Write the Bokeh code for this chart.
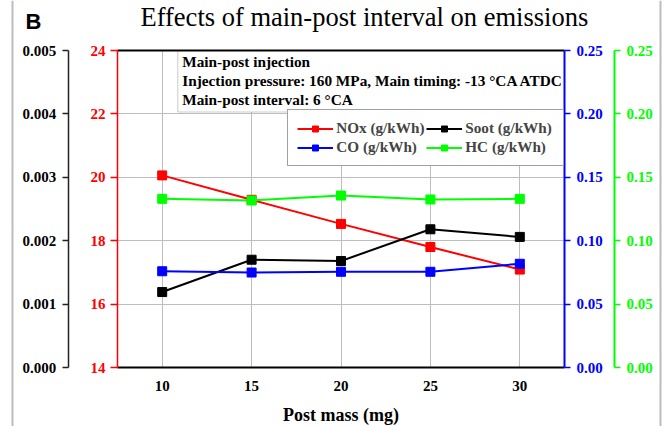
from bokeh.plotting import figure
from bokeh.models import (Range1d, LinearAxis, FixedTicker, PrintfTickFormatter,
                          Legend, LegendItem, Label, BoxAnnotation, Grid)
from bokeh.embed import file_html
from bokeh.resources import INLINE

# ---------------- data ----------------
post_mass = [10, 15, 20, 25, 30]
nox = [20.06, 19.29, 18.53, 17.80, 17.09]          # g/kWh (red, left inner axis)
soot = [0.00119, 0.00170, 0.00168, 0.00218, 0.00206]  # g/kWh (black, left outer axis)
co = [0.0759, 0.0749, 0.0755, 0.0755, 0.0818]      # g/kWh (blue, right inner axis)
hc = [0.1330, 0.1317, 0.1356, 0.1325, 0.1330]      # g/kWh (green, right outer axis)

x_ticks = [10, 15, 20, 25, 30]
nox_ticks = [14, 16, 18, 20, 22, 24]
soot_ticks = [0.000, 0.001, 0.002, 0.003, 0.004, 0.005]
co_ticks = [0.00, 0.05, 0.10, 0.15, 0.20, 0.25]
hc_ticks = [0.00, 0.05, 0.10, 0.15, 0.20, 0.25]

x_lim = (7.5, 32.5)
nox_lim = (14, 24)
soot_lim = (0.0, 0.005)
co_lim = (0.0, 0.25)
hc_lim = (0.0, 0.25)

title_text = "Effects of main-post interval on emissions"
box_lines = ["Main-post injection",
             "Injection pressure: 160 MPa, Main timing: -13 \u00b0CA ATDC",
             "Main-post interval: 6 \u00b0CA"]

# ---------------- geometry (pixels of the plotting area inside the canvas) ----------------
W, H = 667, 426
FL, FR, FT, FB = 117, 564, 50, 367
FONT = "Liberation Serif"
LIME = "#00ff00"
BASE_SHIFT = 0.35  # em; compensates the label baseline placement


def canvas_range(lim, lo_px, hi_px, total, flip=False):
    a, b = lim
    per = (b - a) / (hi_px - lo_px)
    if flip:  # pixel grows downward
        return Range1d(a - (total - hi_px) * per, b + lo_px * per)
    return Range1d(a - lo_px * per, b + (total - hi_px) * per)


def dx(px):
    return x_lim[0] + (px - FL) * (x_lim[1] - x_lim[0]) / (FR - FL)


def dy(py):
    return nox_lim[1] - (py - FT) * (nox_lim[1] - nox_lim[0]) / (FB - FT)


def base(py, size):
    return dy(py - BASE_SHIFT * size)


p = figure(width=W, height=H,
           x_range=canvas_range(x_lim, FL, FR, W),
           y_range=canvas_range(nox_lim, FT, FB, H, flip=True),
           output_backend="svg", toolbar_location=None,
           min_border=0, x_axis_location=None, y_axis_location=None)
p.outline_line_color = None
p.background_fill_color = "white"
p.border_fill_color = "white"
p.xgrid.visible = False
p.ygrid.visible = False
p.extra_y_ranges = {"soot": canvas_range(soot_lim, FT, FB, H, flip=True),
                    "co": canvas_range(co_lim, FT, FB, H, flip=True),
                    "hc": canvas_range(hc_lim, FT, FB, H, flip=True)}

# ---------------- grids (limited to the plotting area) ----------------
has_cross = "cross_bounds" in Grid.properties()
if has_cross:
    gx = Grid(dimension=0, ticker=FixedTicker(ticks=x_ticks), grid_line_color="#bdbdbd",
              grid_line_width=1, bounds=x_lim, cross_bounds=nox_lim)
    gy = Grid(dimension=1, ticker=FixedTicker(ticks=nox_ticks[1:-1]), grid_line_color="#bdbdbd",
              grid_line_width=1, bounds=nox_lim, cross_bounds=x_lim)
    p.add_layout(gx)
    p.add_layout(gy)
else:
    p.segment(x0=x_ticks, y0=[nox_lim[0]] * len(x_ticks), x1=x_ticks, y1=[nox_lim[1]] * len(x_ticks),
              line_color="#bdbdbd", line_width=1, level="underlay")
    p.segment(x0=[x_lim[0]] * 4, y0=nox_ticks[1:-1], x1=[x_lim[1]] * 4, y1=nox_ticks[1:-1],
              line_color="#bdbdbd", line_width=1, level="underlay")

# ---------------- info box (under the guides so the top frame line stays on top) ----------------
p.add_layout(BoxAnnotation(left=dx(177.3), right=x_lim[1], top=nox_lim[1], bottom=dy(111.5),
                           fill_color="white", fill_alpha=1, level="underlay",
                           line_color="#555555", line_width=1))


def style_axis(ax, color, tick_out, standoff):
    ax.axis_line_color = color
    ax.axis_line_width = 1.5
    ax.major_tick_line_color = color
    ax.major_tick_line_width = 1.5
    ax.major_tick_out = tick_out
    ax.major_tick_in = 0
    ax.minor_tick_out = 0
    ax.minor_tick_in = 0
    ax.major_label_text_color = color
    ax.major_label_text_font = FONT
    ax.major_label_text_font_style = "bold"
    ax.major_label_text_font_size = "15px"
    ax.major_label_standoff = standoff


# ---------------- series ----------------
MS = 9
l1 = p.line(post_mass, nox, line_color="red", line_width=2)
s1 = p.scatter(post_mass, nox, marker="square", size=MS, fill_color="red", line_color="red")
l2 = p.line(post_mass, soot, line_color="black", line_width=2, y_range_name="soot")
s2 = p.scatter(post_mass, soot, marker="square", size=MS, fill_color="black", line_color="black",
               y_range_name="soot")
l3 = p.line(post_mass, co, line_color="blue", line_width=2, y_range_name="co")
s3 = p.scatter(post_mass, co, marker="square", size=MS, fill_color="blue", line_color="blue",
               y_range_name="co")
l4 = p.line(post_mass, hc, line_color=LIME, line_width=2, y_range_name="hc")
s4 = p.scatter(post_mass, hc, marker="square", size=MS, fill_color=LIME, line_color=LIME,
               y_range_name="hc")

# ---------------- info text ----------------
BOX_FS = 15.3
for txt, bl in zip(box_lines, [66.5, 85.5, 104.5]):
    p.add_layout(Label(x=dx(181.7), y=base(bl, BOX_FS), text=txt, text_font=FONT,
                       text_font_style="bold", text_font_size=f"{BOX_FS}px",
                       text_color="black", text_baseline="alphabetic"))

# ---------------- axes (pinned at the plotting-area edges) ----------------
red = LinearAxis(ticker=FixedTicker(ticks=nox_ticks), fixed_location=x_lim[0], bounds=nox_lim)
style_axis(red, "red", 7, 5)
p.add_layout(red, "left")

blk = LinearAxis(y_range_name="soot", ticker=FixedTicker(ticks=soot_ticks),
                 formatter=PrintfTickFormatter(format="%.3f"),
                 fixed_location=dx(67.7), bounds=soot_lim)
style_axis(blk, "#222222", 6, 6)
blk.major_label_text_color = "black"
p.add_layout(blk, "left")

blu = LinearAxis(y_range_name="co", ticker=FixedTicker(ticks=co_ticks),
                 formatter=PrintfTickFormatter(format="%.2f"),
                 fixed_location=x_lim[1], bounds=co_lim)
style_axis(blu, "blue", 6, 6)
blu.axis_line_width = 2
p.add_layout(blu, "right")

grn = LinearAxis(y_range_name="hc", ticker=FixedTicker(ticks=hc_ticks),
                 formatter=PrintfTickFormatter(format="%.2f"),
                 fixed_location=dx(614), bounds=hc_lim)
style_axis(grn, LIME, 6, 6)
grn.axis_line_width = 2
p.add_layout(grn, "right")

xa = LinearAxis(ticker=FixedTicker(ticks=x_ticks), fixed_location=nox_lim[0], bounds=x_lim)
xa.axis_line_color = "black"
xa.axis_line_width = 2
xa.major_tick_out = 0
xa.major_tick_in = 0
xa.minor_tick_out = 0
xa.minor_tick_in = 0
xa.major_label_text_color = "black"
xa.major_label_text_font = FONT
xa.major_label_text_font_style = "bold"
xa.major_label_text_font_size = "15px"
xa.major_label_standoff = 13
xa.axis_label = "Post mass (mg)"
xa.axis_label_text_color = "black"
xa.axis_label_text_font = FONT
xa.axis_label_text_font_style = "bold"
xa.axis_label_text_font_size = "18px"
xa.axis_label_standoff = 11
p.add_layout(xa, "below")

top = LinearAxis(ticker=FixedTicker(ticks=[]), fixed_location=nox_lim[1], bounds=x_lim)
top.axis_line_color = "black"
top.axis_line_width = 2
top.major_tick_out = 0
top.major_tick_in = 0
top.minor_tick_out = 0
top.minor_tick_in = 0
top.major_label_text_font_size = "0px"
p.add_layout(top, "above")

# ---------------- legend ----------------
legend = Legend(items=[LegendItem(label="NOx (g/kWh)", renderers=[l1, s1]),
                       LegendItem(label="CO (g/kWh)", renderers=[l3, s3]),
                       LegendItem(label="Soot (g/kWh)", renderers=[l2, s2]),
                       LegendItem(label="HC (g/kWh)", renderers=[l4, s4])],
                location=(287.3, H - 166), nrows=2)
legend.border_line_color = "#444444"
legend.border_line_width = 1
legend.background_fill_color = "white"
legend.background_fill_alpha = 1
legend.label_text_font = FONT
legend.label_text_font_style = "bold"
legend.label_text_font_size = "15.2px"
legend.glyph_width = 36
legend.glyph_height = 15
legend.label_height = 18
legend.label_width = 89
legend.label_standoff = 3
legend.spacing = 1
legend.padding = 9
legend.margin = 0
p.add_layout(legend)

# ---------------- title, panel letter, frame lines ----------------
TITLE_FS = 26.5
p.add_layout(Label(x=dx(140), y=base(25.5, TITLE_FS), text=title_text, text_font=FONT,
                   text_font_size=f"{TITLE_FS}px", text_color="black", text_baseline="alphabetic"))
B_FS = 22
p.add_layout(Label(x=dx(25), y=base(28.3, B_FS), text="B", text_font="Liberation Sans",
                   text_font_style="bold", text_font_size=f"{B_FS}px", text_color="black",
                   text_baseline="alphabetic"))
for xpx in (12, 660):
    p.add_layout(BoxAnnotation(left=dx(xpx - 1), right=dx(xpx + 1),
                               fill_color="#bdbdbd", fill_alpha=1, line_color=None))

open("out.html", "w").write(file_html(p, INLINE))
